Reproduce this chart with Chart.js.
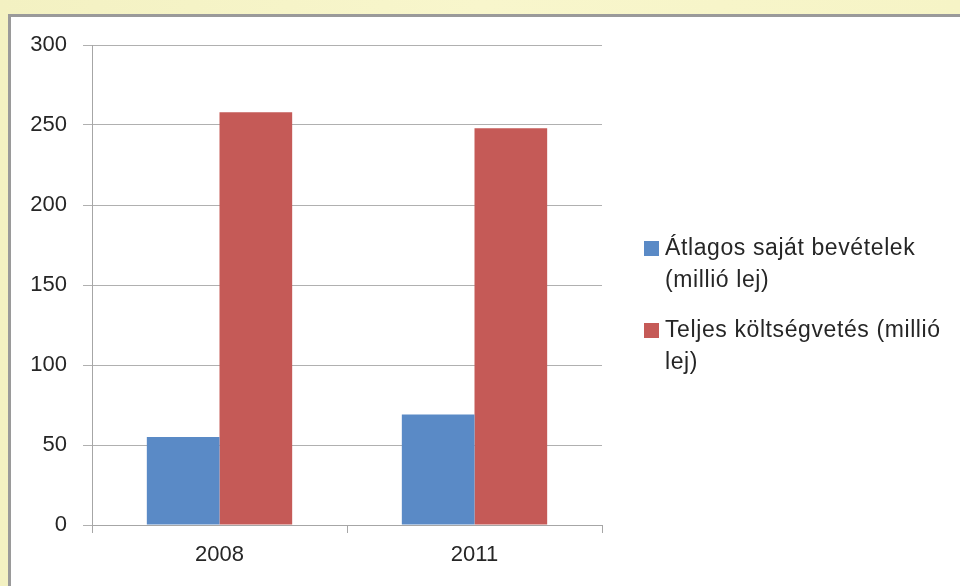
<!DOCTYPE html>
<html>
<head>
<meta charset="utf-8">
<script src="https://cdn.jsdelivr.net/npm/chart.js@4"></script>
<style>
  html, body { margin: 0; padding: 0; }
  body { width: 960px; height: 586px; background: linear-gradient(90deg, #f3f1c2 0%, #f8f6cc 50%, #f6f4c6 100%); position: relative; overflow: hidden; }
  #frame { position: absolute; left: 8px; top: 14px; width: 1000px; height: 700px; background: #ffffff; border-left: 3px solid #9a9a9a; border-top: 3px solid #9a9a9a; }
  #wrap { position: absolute; left: 0; top: 0; width: 960px; height: 586px; }
</style>
</head>
<body>
<div id="frame"></div>
<div id="wrap"><canvas id="c"></canvas></div>
<script>
const categories = ["2008", "2011"];
const seriesNames = ["Átlagos saját bevételek (millió lej)", "Teljes költségvetés (millió lej)"];
const legendLines = [["Átlagos saját bevételek", "(millió lej)"], ["Teljes költségvetés (millió", "lej)"]];
const ownRevenue = [55, 69];
const totalBudget = [258, 248];
const yTicks = [0, 50, 100, 150, 200, 250, 300];

const FONT = "'Liberation Sans', Arial, sans-serif";

const legendPlugin = {
  id: 'customLegend',
  afterDraw(chart) {
    const ctx = chart.ctx;
    ctx.save();
    ctx.font = "23px " + FONT;
    if ('letterSpacing' in ctx) ctx.letterSpacing = '0.6px';
    ctx.textBaseline = 'middle';
    const startY = [249, 331];
    chart.data.datasets.forEach((ds, i) => {
      ctx.fillStyle = ds.backgroundColor;
      ctx.fillRect(644, startY[i] - 8, 15, 15);
      ctx.fillStyle = '#262626';
      legendLines[i].forEach((line, j) => {
        ctx.fillText(line, 665, startY[i] + j * 32);
      });
    });
    ctx.restore();
  }
};

new Chart(document.getElementById('c'), {
  type: 'bar',
  data: {
    labels: categories,
    datasets: [
      { label: seriesNames[0], data: ownRevenue, backgroundColor: '#5a8ac6', borderWidth: 0 },
      { label: seriesNames[1], data: totalBudget, backgroundColor: '#c55a57', borderWidth: 0 }
    ]
  },
  options: {
    responsive: true,
    maintainAspectRatio: false,
    animation: false,
    layout: { padding: { left: 0, right: 358, top: 45, bottom: 0 } },
    datasets: { bar: { categoryPercentage: 0.57, barPercentage: 1.0 } },
    plugins: { legend: { display: false }, tooltip: { enabled: false } },
    scales: {
      x: {
        afterFit(s) { s.height = 61; },
        grid: { display: true, drawOnChartArea: false, drawTicks: true, tickLength: 8, offset: true, color: '#a6a6a6', lineWidth: 1 },
        border: { display: true, color: '#a6a6a6', width: 1 },
        ticks: { font: { family: FONT, size: 22 }, color: '#262626', padding: 9 }
      },
      y: {
        min: 0, max: 300,
        afterFit(s) { s.width = 92; },
        afterBuildTicks(s) { s.ticks = yTicks.map(v => ({ value: v })); },
        grid: { color: '#b0b0b0', lineWidth: 1, tickLength: 9, drawTicks: true },
        border: { display: true, color: '#a6a6a6', width: 1 },
        ticks: { font: { family: FONT, size: 22 }, color: '#262626', padding: 16 }
      }
    }
  },
  plugins: [legendPlugin]
});
</script>
</body>
</html>
